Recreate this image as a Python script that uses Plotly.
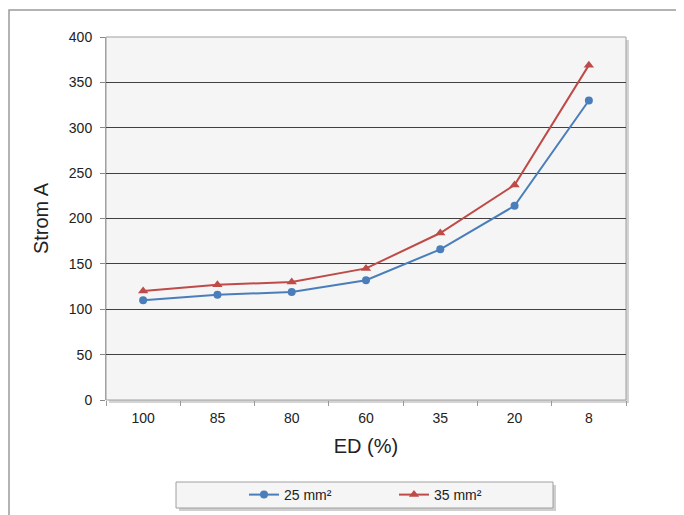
import plotly.graph_objects as go

categories = ["100", "85", "80", "60", "35", "20", "8"]
s25 = [110, 116, 119, 132, 166, 214, 330]
s35 = [120, 127, 130, 145, 184, 237, 369]
y_ticks = [0, 50, 100, 150, 200, 250, 300, 350, 400]

W, H = 684, 515
L, R, T, B = 98, 66, 29, 123
pw, ph = W - L - R, H - T - B

def px(x):
    return (x - L) / pw

def py(y):
    return (H - B - y) / ph

font = "Liberation Sans, Arial, sans-serif"

fig = go.Figure()
fig.add_trace(go.Scatter(x=categories, y=s25, name="25 mm²", mode="lines+markers",
                         line=dict(color="#4a7ebb", width=2),
                         marker=dict(symbol="circle", size=8, color="#4a7ebb")))
fig.add_trace(go.Scatter(x=categories, y=s35, name="35 mm²", mode="lines+markers",
                         line=dict(color="#be4b48", width=2),
                         marker=dict(symbol="triangle-up", size=9, color="#be4b48")))

shapes = [
    # outer chart border
    dict(type="rect", xref="paper", yref="paper", x0=px(1), x1=px(700), y0=py(530), y1=py(2),
         line=dict(color="#9a9a9a", width=1.5), fillcolor="rgba(0,0,0,0)", layer="below"),
    # plot-area shadow
    dict(type="rect", xref="paper", yref="paper", x0=px(L + 3), x1=px(W - R + 3),
         y0=py(H - B + 3), y1=py(T + 3),
         line=dict(width=0), fillcolor="#d4d4d4", layer="below"),
    # plot-area background
    dict(type="rect", xref="paper", yref="paper", x0=0, x1=1, y0=0, y1=1,
         line=dict(color="#a0a0a0", width=1), fillcolor="#f5f5f5", layer="below"),
    # legend shadow
    dict(type="rect", xref="paper", yref="paper", x0=px(171), x1=px(548), y0=py(503), y1=py(477),
         line=dict(width=0), fillcolor="#cfcfcf", layer="below"),
    # legend box
    dict(type="rect", xref="paper", yref="paper", x0=px(168), x1=px(545), y0=py(500), y1=py(474),
         line=dict(color="#a0a0a0", width=1), fillcolor="#f5f5f5", layer="below"),
]

fig.update_layout(
    width=W, height=H,
    margin=dict(l=L, r=R, t=T, b=B),
    paper_bgcolor="white",
    plot_bgcolor="rgba(0,0,0,0)",
    font=dict(family=font, size=14, color="#222"),
    shapes=shapes,
    showlegend=True,
    legend=dict(orientation="h", x=px(386), xanchor="center", y=py(487), yanchor="middle",
                bgcolor="rgba(0,0,0,0)", font=dict(size=14, color="#222"),
                entrywidth=105, entrywidthmode="pixels", itemwidth=30),
    xaxis=dict(type="category", range=[-0.5, 6.5], tickson="boundaries",
               ticks="outside", ticklen=5, tickcolor="#999", showline=False,
               showgrid=False, zeroline=False, ticklabelstandoff=8,
               title=dict(text="ED (%)", font=dict(size=20, color="#222"), standoff=13)),
    yaxis=dict(range=[0, 400], tickvals=y_ticks, ticks="outside", ticklen=5, tickcolor="#888",
               showline=True, linecolor="#a0a0a0", linewidth=1, ticklabelstandoff=5,
               showgrid=True, gridcolor="#404040", gridwidth=1, zeroline=False,
               title=dict(text="Strom A", font=dict(size=20, color="#222"), standoff=14)),
)

fig.write_html("out.html")
